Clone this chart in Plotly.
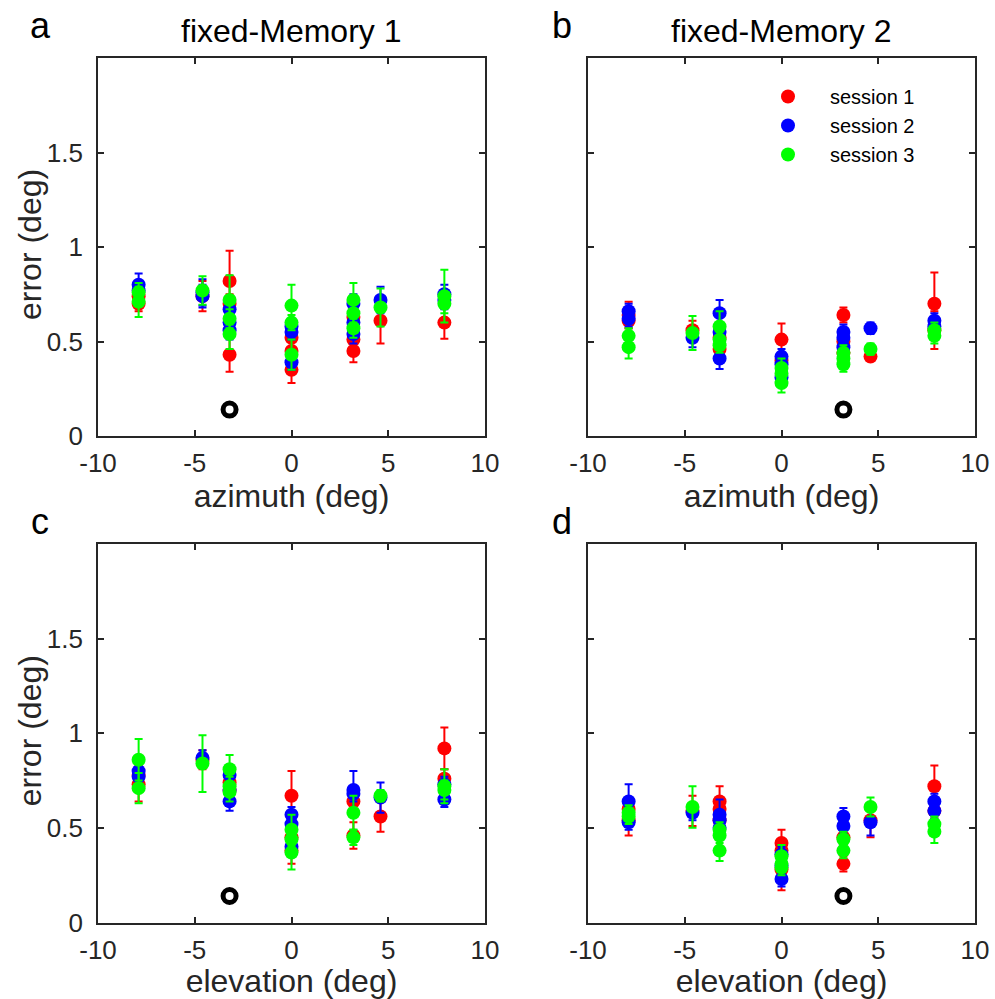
import plotly.graph_objects as go

# ---------------- data ----------------
# panel a : fixed-Memory 1, azimuth
a_x_s1 = [-7.9, -7.9, -4.6, -3.2, -3.2, -3.2, 0, 0, 0, 3.2, 3.2, 3.2, 4.6, 7.9]
a_y_s1 = [0.70, 0.74, 0.74, 0.82, 0.70, 0.43, 0.52, 0.45, 0.35, 0.63, 0.51, 0.45, 0.61, 0.60]
a_e_s1 = [0.04, 0.04, 0.08, 0.16, 0.05, 0.09, 0.05, 0.05, 0.07, 0.04, 0.05, 0.06, 0.12, 0.085]
a_x_s2 = [-7.9, -7.9, -4.6, -4.6, -3.2, -3.2, -3.2, 0, 0, 0, 3.2, 3.2, 3.2, 4.6, 7.9, 7.9]
a_y_s2 = [0.80, 0.77, 0.76, 0.74, 0.67, 0.60, 0.56, 0.58, 0.55, 0.39, 0.70, 0.60, 0.54, 0.72, 0.75, 0.72]
a_e_s2 = [0.06, 0.04, 0.07, 0.06, 0.05, 0.05, 0.05, 0.04, 0.04, 0.04, 0.05, 0.05, 0.05, 0.07, 0.05, 0.05]
a_x_s3 = [-7.9, -7.9, -4.6, -3.2, -3.2, -3.2, 0, 0, 0, 3.2, 3.2, 3.2, 4.6, 7.9, 7.9]
a_y_s3 = [0.76, 0.71, 0.77, 0.72, 0.62, 0.54, 0.69, 0.60, 0.43, 0.72, 0.65, 0.57, 0.68, 0.74, 0.70]
a_e_s3 = [0.05, 0.08, 0.075, 0.13, 0.05, 0.08, 0.11, 0.04, 0.08, 0.09, 0.05, 0.05, 0.10, 0.14, 0.05]

# panel b : fixed-Memory 2, azimuth
b_x_s1 = [-7.9, -7.9, -4.6, -3.2, -3.2, 0, 0, 3.2, 3.2, 3.2, 4.6, 7.9, 7.9]
b_y_s1 = [0.64, 0.61, 0.56, 0.52, 0.46, 0.51, 0.40, 0.64, 0.50, 0.44, 0.42, 0.70, 0.56]
b_e_s1 = [0.07, 0.04, 0.05, 0.04, 0.04, 0.085, 0.04, 0.04, 0.04, 0.04, 0.02, 0.165, 0.10]
b_x_s2 = [-7.9, -7.9, -4.6, -3.2, -3.2, -3.2, 0, 0, 0, 3.2, 3.2, 3.2, 4.6, 7.9, 7.9]
b_y_s2 = [0.66, 0.62, 0.52, 0.65, 0.55, 0.41, 0.42, 0.38, 0.31, 0.55, 0.52, 0.47, 0.57, 0.61, 0.58]
b_e_s2 = [0.04, 0.04, 0.05, 0.07, 0.04, 0.055, 0.04, 0.04, 0.04, 0.04, 0.04, 0.04, 0.03, 0.04, 0.04]
b_x_s3 = [-7.9, -7.9, -4.6, -3.2, -3.2, -3.2, 0, 0, 0, 3.2, 3.2, 3.2, 4.6, 7.9, 7.9]
b_y_s3 = [0.53, 0.47, 0.545, 0.58, 0.51, 0.48, 0.36, 0.33, 0.28, 0.44, 0.41, 0.38, 0.46, 0.56, 0.53]
b_e_s3 = [0.04, 0.06, 0.09, 0.08, 0.04, 0.04, 0.05, 0.04, 0.05, 0.04, 0.04, 0.04, 0.03, 0.04, 0.04]

# panel c : fixed-Memory 1, elevation
c_x_s1 = [-7.9, -7.9, -4.6, -3.2, -3.2, 0, 0, 0, 3.2, 3.2, 4.6, 7.9, 7.9]
c_y_s1 = [0.78, 0.73, 0.86, 0.74, 0.70, 0.67, 0.45, 0.38, 0.64, 0.46, 0.56, 0.92, 0.76]
c_e_s1 = [0.05, 0.09, 0.05, 0.05, 0.05, 0.13, 0.04, 0.07, 0.04, 0.07, 0.08, 0.11, 0.05]
c_x_s2 = [-7.9, -7.9, -4.6, -3.2, -3.2, -3.2, 0, 0, 0, 3.2, 3.2, 4.6, 7.9, 7.9]
c_y_s2 = [0.80, 0.77, 0.87, 0.78, 0.70, 0.64, 0.57, 0.52, 0.40, 0.70, 0.68, 0.66, 0.73, 0.65]
c_e_s2 = [0.05, 0.05, 0.04, 0.05, 0.05, 0.05, 0.04, 0.04, 0.05, 0.10, 0.04, 0.08, 0.04, 0.04]
c_x_s3 = [-7.9, -7.9, -4.6, -3.2, -3.2, -3.2, 0, 0, 0, 3.2, 3.2, 4.6, 7.9, 7.9]
c_y_s3 = [0.86, 0.71, 0.84, 0.81, 0.72, 0.69, 0.49, 0.44, 0.37, 0.58, 0.45, 0.67, 0.72, 0.70]
c_e_s3 = [0.11, 0.08, 0.15, 0.075, 0.05, 0.05, 0.08, 0.04, 0.09, 0.09, 0.04, 0.03, 0.09, 0.05]

# panel d : fixed-Memory 2, elevation
d_x_s1 = [-7.9, -7.9, -4.6, -3.2, -3.2, -3.2, 0, 0, 0, 3.2, 3.2, 4.6, 7.9, 7.9]
d_y_s1 = [0.60, 0.54, 0.59, 0.64, 0.60, 0.54, 0.42, 0.38, 0.28, 0.45, 0.31, 0.54, 0.72, 0.59]
d_e_s1 = [0.04, 0.08, 0.08, 0.08, 0.04, 0.04, 0.07, 0.04, 0.11, 0.04, 0.04, 0.09, 0.11, 0.04]
d_x_s2 = [-7.9, -7.9, -4.6, -3.2, -3.2, -3.2, 0, 0, 0, 3.2, 3.2, 4.6, 7.9, 7.9]
d_y_s2 = [0.64, 0.53, 0.58, 0.57, 0.54, 0.50, 0.36, 0.30, 0.23, 0.56, 0.51, 0.53, 0.64, 0.59]
d_e_s2 = [0.09, 0.04, 0.04, 0.08, 0.04, 0.04, 0.04, 0.04, 0.04, 0.045, 0.04, 0.07, 0.04, 0.04]
d_x_s3 = [-7.9, -7.9, -4.6, -3.2, -3.2, -3.2, 0, 0, 0, 3.2, 3.2, 4.6, 7.9, 7.9]
d_y_s3 = [0.58, 0.56, 0.61, 0.49, 0.46, 0.38, 0.35, 0.31, 0.29, 0.44, 0.38, 0.61, 0.52, 0.48]
d_e_s3 = [0.04, 0.04, 0.11, 0.04, 0.04, 0.055, 0.06, 0.04, 0.04, 0.04, 0.04, 0.05, 0.04, 0.06]

# reference (fixation) marker per panel
ref_x = [-3.2, 3.2, -3.2, 3.2]
ref_y = [0.14, 0.14, 0.14, 0.14]

session_names = ["session 1", "session 2", "session 3"]
session_colors = ["#FF0000", "#0000FF", "#00FF00"]
panel_titles = ["fixed-Memory 1", "fixed-Memory 2"]
panel_letters = ["a", "b", "c", "d"]
x_titles = ["azimuth (deg)", "azimuth (deg)", "elevation (deg)", "elevation (deg)"]
y_title = "error (deg)"
x_ticks = [-10, -5, 0, 5, 10]
x_ticktext = ["-10", "-5", "0", "5", "10"]
y_ticks = [0, 0.5, 1, 1.5]
y_ticktext = ["0", "0.5", "1", "1.5"]

panels = [
    [(a_x_s1, a_y_s1, a_e_s1), (a_x_s2, a_y_s2, a_e_s2), (a_x_s3, a_y_s3, a_e_s3)],
    [(b_x_s1, b_y_s1, b_e_s1), (b_x_s2, b_y_s2, b_e_s2), (b_x_s3, b_y_s3, b_e_s3)],
    [(c_x_s1, c_y_s1, c_e_s1), (c_x_s2, c_y_s2, c_e_s2), (c_x_s3, c_y_s3, c_e_s3)],
    [(d_x_s1, d_y_s1, d_e_s1), (d_x_s2, d_y_s2, d_e_s2), (d_x_s3, d_y_s3, d_e_s3)],
]

# ---------------- figure ----------------
W, H = 995, 999
FONT = "Liberation Sans, Arial, Helvetica, sans-serif"
AX = "#262626"

fig = go.Figure()

for p, sessions in enumerate(panels):
    sfx = "" if p == 0 else str(p + 1)
    for s, (xs, ys, es) in enumerate(sessions):
        fig.add_trace(go.Scatter(
            x=xs, y=ys, mode="markers",
            name=session_names[s],
            legendgroup=session_names[s],
            showlegend=(p == 1),
            marker=dict(color=session_colors[s], size=14, line=dict(width=0)),
            error_y=dict(type="data", array=es, visible=True,
                         color=session_colors[s], thickness=2, width=4),
            xaxis="x" + sfx, yaxis="y" + sfx,
        ))
    fig.add_trace(go.Scatter(
        x=[ref_x[p]], y=[ref_y[p]], mode="markers", showlegend=False,
        marker=dict(symbol="circle-open", size=13, color="black",
                    line=dict(width=5, color="black")),
        xaxis="x" + sfx, yaxis="y" + sfx,
    ))

xdom = [[98 / W, 485 / W], [588 / W, 975 / W]]
ydom = [[1 - 436 / H, 1 - 58 / H], [1 - 922.5 / H, 1 - 544 / H]]

common = dict(showline=True, mirror="ticks", linecolor=AX, linewidth=1.6,
              ticks="inside", ticklen=6, tickwidth=1.6, tickcolor=AX,
              showgrid=False, zeroline=False, automargin=False,
              tickfont=dict(family=FONT, size=26, color=AX))

layout = dict(
    width=W, height=H,
    margin=dict(l=0, r=0, t=0, b=0, pad=0, autoexpand=False),
    paper_bgcolor="white", plot_bgcolor="white",
    font=dict(family=FONT, color=AX),
    legend=dict(x=746 / W, y=1 - 77 / H, xanchor="left", yanchor="top",
                bgcolor="rgba(0,0,0,0)", borderwidth=0,
                font=dict(family=FONT, size=20, color="black"),
                itemwidth=74, tracegroupgap=0),
    annotations=[],
)

for p in range(4):
    r, c = divmod(p, 2)
    sfx = "" if p == 0 else str(p + 1)
    xa = dict(common, domain=xdom[c], range=[-10, 10], tickvals=x_ticks,
              ticktext=x_ticktext, ticklabelstandoff=3,
              anchor="y" + sfx,
              title=dict(text=x_titles[p], font=dict(family=FONT, size=32, color=AX),
                         standoff=2))
    ya = dict(common, domain=ydom[r], range=[0, 2], tickvals=y_ticks,
              ticktext=y_ticktext,
              showticklabels=(c == 0), ticklabelstandoff=8,
              anchor="x" + sfx)
    layout["xaxis" + sfx] = xa
    layout["yaxis" + sfx] = ya

# y-axis titles (left column)
for r in range(2):
    layout["annotations"].append(dict(
        text=y_title, xref="paper", yref="paper",
        x=30 / W, y=(ydom[r][0] + ydom[r][1]) / 2 + 2 / H,
        xanchor="center", yanchor="middle", textangle=-90, showarrow=False,
        font=dict(family=FONT, size=32, color=AX)))

# panel titles
for c in range(2):
    layout["annotations"].append(dict(
        text=panel_titles[c], xref="paper", yref="paper",
        x=(xdom[c][0] + xdom[c][1]) / 2, y=1 - 31 / H,
        xanchor="center", yanchor="middle", showarrow=False,
        font=dict(family=FONT, size=32, color="black")))

# panel letters
letter_pos = [(40, 26), (562, 26), (40, 521), (562, 521)]
for p in range(4):
    lx, ly = letter_pos[p]
    layout["annotations"].append(dict(
        text=panel_letters[p], xref="paper", yref="paper",
        x=lx / W, y=1 - ly / H, xanchor="center", yanchor="middle",
        showarrow=False, font=dict(family=FONT, size=36, color="black")))

fig.update_layout(layout)
fig.write_html("out.html")
